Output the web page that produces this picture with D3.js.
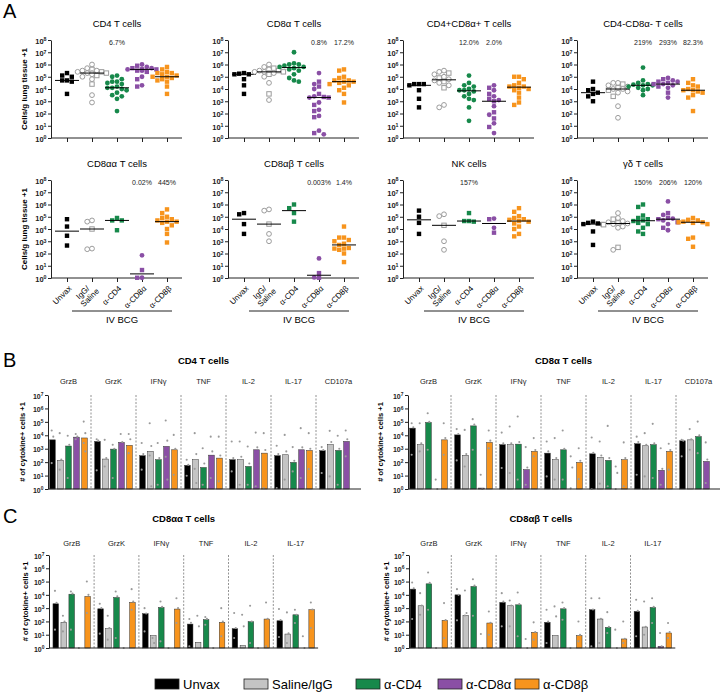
<!DOCTYPE html>
<html>
<head>
<meta charset="utf-8">
<script src="https://cdn.jsdelivr.net/npm/d3@7"></script>
<style>
  body { margin: 0; background: #fff; }
  svg text { font-family: "Liberation Sans", Arial, sans-serif; }
</style>
</head>
<body>
<svg id="fig" width="720" height="693"></svg>
<script>
// groups and colours
const groups = ["Unvax", "IgG/Saline", "α-CD4", "α-CD8α", "α-CD8β"];
const xTickLabels = ["Unvax", ["IgG/", "Saline"], "α-CD4", "α-CD8α", "α-CD8β"];
const legendNames = ["Unvax", "Saline/IgG", "α-CD4", "α-CD8α", "α-CD8β"];
const colors = ["#000000", "#c4c4c4", "#17894b", "#8a4fa5", "#f7941d"];

// panel A: log10(cells/g lung tissue + 1), one value per animal
const aTitles = ["CD4 T cells", "CD8α T cells", "CD4+CD8α+ T cells", "CD4-CD8α- T cells",
  "CD8αα T cells", "CD8αβ T cells", "NK cells", "γδ T cells"];

const cd4T = [
  [5.3, 5.1, 5.0, 4.7, 4.7, 4.6, 3.6],
  [6.0, 5.7, 5.6, 5.5, 5.5, 5.4, 5.4, 5.3, 5.3, 5.3, 5.2, 5.1, 5.0, 4.8, 4.4, 3.5, 2.9],
  [5.1, 5.0, 4.8, 4.6, 4.6, 4.5, 4.4, 4.2, 4.1, 4.1, 4.0, 3.9, 3.7, 3.5, 3.4, 3.2, 2.2],
  [6.0, 5.9, 5.8, 5.7, 5.7, 5.6, 5.6, 5.6, 5.6, 5.5, 5.5, 5.4, 5.0, 4.8, 4.3, 4.2],
  [5.8, 5.6, 5.4, 5.3, 5.3, 5.2, 5.1, 5.0, 5.0, 4.9, 4.8, 4.7, 4.6, 4.2, 3.6]
];
const cd8aT = [
  [5.3, 5.25, 5.2, 5.2, 4.8, 4.3, 3.6],
  [6.0, 5.8, 5.7, 5.6, 5.5, 5.5, 5.4, 5.4, 5.4, 5.3, 5.3, 5.2, 5.0, 4.5, 3.6, 3.1],
  [7.0, 6.1, 6.0, 6.0, 5.9, 5.8, 5.8, 5.7, 5.6, 5.5, 5.2, 4.9, 4.7, 4.6],
  [5.3, 4.6, 4.4, 4.2, 4.0, 3.6, 3.4, 3.35, 3.3, 3.3, 2.9, 2.7, 2.3, 2.2, 1.8, 1.7, 0.6, 0.4, 0.3],
  [5.6, 5.5, 5.0, 4.9, 4.7, 4.7, 4.6, 4.6, 4.5, 4.4, 4.3, 4.1, 3.9, 3.6, 2.9]
];
const dpT = [
  [4.4, 4.4, 4.4, 4.3, 3.9, 3.2, 2.5],
  [5.5, 5.4, 5.3, 5.2, 5.0, 4.9, 4.8, 4.7, 4.6, 4.5, 4.3, 4.1, 2.7, 2.5],
  [5.1, 4.5, 4.3, 4.2, 4.0, 3.9, 3.9, 3.8, 3.6, 3.4, 3.2, 3.1, 2.5, 1.4],
  [4.3, 4.1, 3.9, 3.6, 3.4, 3.2, 3.1, 3.0, 2.6, 2.1, 1.9, 1.6, 1.2, 0.9, 0.4],
  [5.0, 5.0, 4.8, 4.5, 4.3, 4.2, 4.2, 4.1, 4.0, 3.9, 3.7, 3.3, 2.9, 2.7]
];
const dnT = [
  [4.6, 4.0, 3.9, 3.7, 3.6, 3.4, 3.0],
  [4.5, 4.5, 4.4, 4.3, 4.2, 4.1, 4.0, 4.0, 3.9, 3.8, 3.7, 3.4, 2.6, 1.65],
  [5.75, 4.7, 4.5, 4.4, 4.35, 4.3, 4.3, 4.2, 4.1, 4.0, 3.9, 3.5],
  [4.9, 4.8, 4.7, 4.6, 4.6, 4.5, 4.4, 4.4, 4.3, 4.2, 4.1, 3.7, 3.3],
  [4.8, 4.5, 4.3, 4.2, 4.0, 3.9, 3.9, 3.8, 3.7, 3.5, 3.3, 2.2]
];
const cd8aaT = [
  [4.8, 4.2, 3.45, 2.65],
  [4.7, 4.6, 4.0, 2.4, 2.35],
  [4.9, 4.7, 4.7, 3.9],
  [1.85, 0.65, 0.02, 0.02],
  [5.6, 5.3, 5.0, 4.9, 4.8, 4.7, 4.6, 4.6, 4.5, 4.3, 4.0, 3.6, 2.9]
];
const cd8abT = [
  [5.3, 5.2, 4.4, 3.6],
  [5.6, 5.5, 4.4, 3.6, 3.0],
  [6.0, 5.7, 5.3, 4.6],
  [1.6, 0.4, 0.05, 0.02],
  [4.2, 3.3, 3.3, 3.1, 3.0, 2.8, 2.7, 2.45, 2.4, 2.4, 2.3, 2.0, 1.3]
];
const nkCells = [
  [5.5, 5.0, 4.5, 3.6],
  [5.2, 5.05, 4.3, 3.0, 2.3],
  [5.3, 4.65, 4.65, 4.6],
  [4.85, 4.8, 4.1, 3.7],
  [5.7, 5.4, 5.05, 4.9, 4.8, 4.75, 4.65, 4.6, 4.45, 4.2, 4.0, 3.6, 3.4]
];
const gdT = [
  [4.6, 4.5, 4.45, 4.4, 4.4, 3.8, 2.7],
  [5.3, 4.9, 4.8, 4.65, 4.55, 4.5, 4.45, 4.4, 4.35, 4.2, 4.1, 2.5, 2.3],
  [6.0, 5.8, 5.1, 4.9, 4.8, 4.7, 4.65, 4.5, 4.4, 4.1, 3.8, 3.6],
  [6.25, 5.3, 5.15, 4.9, 4.85, 4.8, 4.7, 4.55, 4.4, 4.1, 3.9],
  [4.9, 4.75, 4.7, 4.6, 4.55, 4.55, 4.5, 4.4, 3.3, 3.2, 2.55]
];
const aPct = [
  [null, null, "6.7%", null, null],
  [null, null, null, "0.8%", "17.2%"],
  [null, null, "12.0%", "2.0%", null],
  [null, null, "219%", "293%", "82.3%"],
  [null, null, null, "0.02%", "445%"],
  [null, null, null, "0.003%", "1.4%"],
  [null, null, "157%", null, null],
  [null, null, "150%", "206%", "120%"]
];

// panels B and C: log10(# cytokine+ cells + 1), bar = group mean, dots = animals
const bCytokines = ["GrzB", "GrzK", "IFNγ", "TNF", "IL-2", "IL-17", "CD107a"];
const cCytokines = ["GrzB", "GrzK", "IFNγ", "TNF", "IL-2", "IL-17"];

const bCd4Bars = [
  [3.66, 2.13, 3.2, 3.86, 3.8],
  [3.54, 2.23, 2.97, 3.47, 3.25],
  [2.48, 2.8, 2.18, 3.17, 2.92],
  [1.76, 2.18, 1.6, 2.52, 2.3],
  [2.18, 2.18, 1.68, 2.92, 2.67],
  [2.48, 2.55, 1.98, 2.92, 2.87],
  [2.85, 3.3, 2.87, 3.54, null]
];
const bCd4Dots = [
  [[4.36, 3.9, 1.93], [4.16, 2.2, 1.44], [3.96, 3.3, 0.82], [4.1, 3.9, 3.7], [5.02, 4.16, 3.42, 2.8]],
  [[3.71, 3.6, 1.39], [3.66, 2.3, 1.68], [3.3, 3.0, 0.82], [4.1, 3.5], [4.1, 3.7, 2.67]],
  [[3.42, 2.6, 1.44], [4.9, 3.2, 2.5, 0.2], [3.42, 2.3, 0.32], [5.1, 3.6, 2.4, 0.7], [4.03, 3.0, 1.06]],
  [[2.18, 1.8, 0.99], [4.16, 2.6, 1.5, 0.45], [3.04, 1.9, 0.32], [3.9, 2.8, 0.82], [3.9, 2.5, 0.57]],
  [[3.54, 2.3, 1.31], [3.54, 2.4, 0.32], [3.17, 1.9, 0.32], [4.2, 3.1, 0.2], [4.16, 2.9, 0.07]],
  [[3.22, 2.6, 0.07], [4.03, 2.8, 0.7], [3.12, 2.1, 1.31], [4.53, 3.1, 0.82], [4.16, 3.0, 1.49]],
  [[3.12, 2.9, 1.19], [4.33, 3.5, 0.94], [3.96, 3.0, 0.32], [4.36, 3.7, 2.43], []]
];
const bCd8Bars = [
  [4.53, 3.3, 4.95, 0, 3.66],
  [4.03, 2.5, 4.7, 0.07, 3.47],
  [3.3, 3.3, 3.34, 1.44, 2.8],
  [2.67, 2.18, 2.92, 0, 1.98],
  [2.62, 2.35, 2.13, 0, 2.18],
  [3.37, 3.22, 3.3, 1.39, 2.8],
  [3.59, 3.66, 3.9, 2.05, null]
];
const bCd8Dots = [
  [[4.9, 4.6, 2.55], [4.9, 3.4, 2.8], [5.64, 5.0, 2.92], [0.7, 0], [4.9, 3.8, 2.55]],
  [[4.46, 4.1, 2.13], [4.4, 2.6, 1.68], [5.2, 4.8, 2.92], [1.06, 0], [4.36, 3.6, 3.04]],
  [[4.2, 3.4, 1.56], [4.65, 3.4, 1.19], [5.4, 3.5, 0.7], [3.12, 1.6, 0.32], [3.79, 2.9, 2.43]],
  [[3.54, 2.8, 0.94], [3.79, 2.3, 0.7], [4.36, 3.0, 0.7], [2.43, 1.6, 0.05], [3.04, 2.1, 0.74]],
  [[3.84, 2.7, 0], [3.54, 2.5, 0.4], [4.7, 2.3, 0.2], [1.68, 1.2, 0], [3.47, 2.3, 0.2]],
  [[3.9, 3.5, 1.06], [4.16, 3.3, 0.94], [4.85, 3.4, 0.82], [3.04, 1.5, 0.32], [3.37, 2.9, 1.44]],
  [[3.66, 3.6, 2.43], [4.46, 3.7, 2.92], [5.02, 4.0, 2.67], [3.47, 2.2, 0.45], []]
];
const cAaBars = [
  [3.33, 1.93, 4.05, 0, 3.88],
  [2.95, 1.45, 3.8, 0, 3.43],
  [2.58, 0.93, 3.05, 0, 2.93],
  [1.8, 0.43, 2.13, 0, 1.93],
  [1.45, 0.18, 1.98, 0, 2.18],
  [2.05, 1.05, 2.5, 0, 2.88]
];
const cAaDots = [
  [[4.3, 3.4, 1.38], [2.43, 2.0, 1.25], [4.25, 4.1, 1.38], [0], [5.0, 4.0, 2.63]],
  [[3.33, 3.0, 1.08], [2.43, 1.5, 0.63], [4.25, 3.9, 0.75], [0], [4.43, 3.5, 2.88]],
  [[3.0, 2.6, 1.25], [0.75, 0.38], [3.5, 3.1, 0.5], [0], [3.75, 3.0, 1.88]],
  [[2.18, 1.9, 0.13], [2.43, 1.63], [2.33, 2.2, 1.75], [0], [3.0, 2.0, 0.88]],
  [[2.63, 1.5, 0.75], [2.5, 1.63], [3.18, 2.0, 0.38], [0], [3.43, 2.2, 0.13]],
  [[2.93, 2.1, 0.83], [2.68, 1.1, 0.38], [2.88, 2.5, 1.88], [0.88, 0], [3.43, 2.9, 1.5]]
];
const cAbBars = [
  [4.43, 3.18, 4.83, 0, 2.08],
  [4.0, 2.45, 4.63, 0, 1.88],
  [3.43, 3.18, 3.25, 0, 1.18],
  [1.93, 0.93, 2.95, 0, 0.93],
  [2.88, 2.18, 1.55, 0, 0.68],
  [2.75, 1.58, 3.05, 0.13, 1.13]
];
const cAbDots = [
  [[4.93, 4.5, 2.18], [4.13, 3.2, 2.5], [5.68, 4.9, 2.88], [0], [3.38, 2.1, 0.75]],
  [[4.43, 4.0, 2.08], [4.33, 2.63, 2.45], [5.18, 4.7, 2.43], [1.05, 0], [2.75, 1.9, 1.0]],
  [[4.13, 3.5, 1.63], [3.58, 3.2, 1.63], [4.18, 3.3, 0.88], [0.68, 0], [1.93, 1.2, 0.63]],
  [[2.88, 2.0, 0.38], [3.13, 2.38], [3.43, 3.0, 2.13], [0], [2.0, 1.0, 0.5]],
  [[3.75, 2.9, 0.13], [3.75, 2.2, 0.38], [2.7, 1.6, 1.13], [1.38, 0], [2.0, 0.7, 0.38]],
  [[3.63, 2.8, 0.88], [3.5, 1.6, 1.0], [3.75, 3.1, 1.88], [1.13, 0.13], [1.88, 1.2, 0.75]]
];

const svg = d3.select("#fig");

// "10" with superscript exponent
function supLabel(text, e) {
  text.text("10");
  text.append("tspan").attr("dy", "-0.5em").attr("font-size", "0.7em").text(e);
}

function leftAxis(g, x, y, maxExp, fs) {
  const ax = g.append("g").attr("transform", `translate(${x},0)`)
    .call(d3.axisLeft(y)
      .tickValues(d3.range(0, maxExp + 1).map(e => 10 ** e))
      .tickSize(3).tickSizeOuter(0).tickPadding(1.5).tickFormat(""));
  ax.attr("font-family", null).attr("font-size", fs).attr("font-weight", "bold");
  ax.select(".domain").attr("stroke", "#222");
  ax.selectAll(".tick line").attr("stroke", "#222");
  ax.selectAll(".tick text").attr("fill", "#222").attr("dy", "0.45em")
    .each(function (d) { supLabel(d3.select(this), Math.round(Math.log10(d))); });
}

function shapeOf(row, gi, i) {
  if (gi === 4 || gi === 0) return "square";
  if (gi === 1) return i % 3 === 2 ? "square" : "circle";
  if (gi === 2) return row === 0 ? "circle" : "square";
  return i % 2 ? "square" : "circle";
}

function scatterPanel(x0, yTop, yBot, title, vals, pct, row, showX, yLabel) {
  const g = svg.append("g");
  const x = d3.scalePoint().domain(groups).range([x0 + 16, x0 + 116]);
  const y = d3.scaleLog().domain([1, 1e8]).range([yBot, yTop]);

  leftAxis(g, x0, y, 8, 7.5);
  const xa = g.append("g").attr("transform", `translate(0,${yBot})`)
    .call(d3.axisBottom(x).tickSize(4).tickFormat(""));
  xa.select(".domain").remove();
  xa.selectAll(".tick line").attr("stroke", "#222");
  g.append("line").attr("x1", x0).attr("x2", x0 + 131)
    .attr("y1", yBot).attr("y2", yBot).attr("stroke", "#222");

  g.append("text").attr("x", x(groups[2])).attr("y", yTop - 13)
    .attr("text-anchor", "middle").attr("font-size", 9.5).text(title);

  pct.forEach((p, i) => {
    if (!p) return;
    g.append("text").attr("x", x(groups[i])).attr("y", yTop + 5)
      .attr("text-anchor", "middle").attr("font-size", 7).attr("fill", "#222").text(p);
  });

  vals.forEach((v, gi) => {
    const cx = x(groups[gi]);
    // simple swarm: spread points sideways so they do not overlap
    const placed = [];
    v.forEach((e, i) => {
      const py = y(10 ** e);
      const offs = [0, -4.8, 4.8, -9.6, 9.6, -14.4, 14.4];
      let o = offs.find(o => placed.every(q => Math.hypot(q.x - (cx + o), q.y - py) >= 4.6));
      if (o === undefined) o = 0;
      placed.push({ x: cx + o, y: py, i });
    });
    placed.forEach(p => {
      const hollow = gi === 1;
      const fill = hollow ? "#fff" : colors[gi];
      const stroke = hollow ? "#9c9c9c" : "none";
      if (shapeOf(row, gi, p.i) === "square") {
        g.append("rect").attr("x", p.x - 2.2).attr("y", p.y - 2.2)
          .attr("width", 4.4).attr("height", 4.4)
          .attr("fill", fill).attr("stroke", stroke).attr("stroke-width", 1);
      } else {
        g.append("circle").attr("cx", p.x).attr("cy", p.y).attr("r", 2.4)
          .attr("fill", fill).attr("stroke", stroke).attr("stroke-width", 1);
      }
    });
    const med = d3.median(v);
    g.append("line").attr("x1", cx - 12).attr("x2", cx + 12)
      .attr("y1", y(10 ** med)).attr("y2", y(10 ** med))
      .attr("stroke", "#000").attr("stroke-width", 1);
  });

  if (showX) {
    xTickLabels.forEach((lab, i) => {
      const t = g.append("text").attr("text-anchor", "end").attr("font-size", 8)
        .attr("transform", `translate(${x(groups[i]) + 3},${yBot + 9}) rotate(-45)`);
      if (Array.isArray(lab)) {
        t.append("tspan").attr("x", -5).attr("y", -2).text(lab[0]);
        t.append("tspan").attr("x", 0).attr("y", 6.5).text(lab[1]);
      } else {
        t.attr("dy", "0.35em").text(lab);
      }
    });
    g.append("line").attr("x1", x(groups[1]) - 20).attr("x2", x(groups[4]) + 5)
      .attr("y1", yBot + 33).attr("y2", yBot + 33).attr("stroke", "#222").attr("stroke-width", 1);
    g.append("text").attr("x", (x(groups[1]) - 20 + x(groups[4]) + 5) / 2).attr("y", yBot + 45)
      .attr("text-anchor", "middle").attr("font-size", 9.5).text("IV BCG");
  }
  if (yLabel) {
    g.append("text").attr("transform", `translate(${x0 - 24},${(yTop + yBot) / 2}) rotate(-90)`)
      .attr("text-anchor", "middle").attr("font-size", 8).attr("font-weight", "bold")
      .text("Cells/g lung tissue +1");
  }
}

function barPanel(axisX, gStart, gWidth, yTop, yBot, title, titleY, catY, cats, bars, dots, labelX) {
  const g = svg.append("g");
  const gEnd = gStart + gWidth * cats.length;
  const x = d3.scaleBand().domain(cats).range([gStart, gEnd]);
  const xi = d3.scaleBand().domain(d3.range(groups.length)).range([0, gWidth])
    .paddingInner(0.3).paddingOuter(0.46);
  const y = d3.scaleLog().domain([1, 1e7]).range([yBot, yTop]);

  g.append("text").attr("x", (gStart + gEnd) / 2).attr("y", titleY)
    .attr("text-anchor", "middle").attr("font-size", 9.5).attr("font-weight", "bold").text(title);

  cats.forEach((c, ci) => {
    g.append("text").attr("x", x(c) + gWidth / 2).attr("y", catY)
      .attr("text-anchor", "middle").attr("font-size", 7.5).attr("fill", "#222").text(c);
    if (ci > 0) {
      g.append("line").attr("x1", x(c)).attr("x2", x(c)).attr("y1", yTop).attr("y2", yBot)
        .attr("stroke", "#777").attr("stroke-width", 0.8).attr("stroke-dasharray", "2,1.5");
    }
    bars[ci].forEach((v, gi) => {
      if (v === null) return;
      const bx = x(c) + xi(gi);
      const top = y(10 ** v);
      g.append("rect").attr("x", bx).attr("y", top)
        .attr("width", xi.bandwidth()).attr("height", yBot - top)
        .attr("fill", colors[gi]).attr("stroke", "#333").attr("stroke-width", 0.5);
      dots[ci][gi].forEach((d, k) => {
        g.append("circle").attr("cx", bx + xi.bandwidth() / 2 + (k % 2 ? 1 : -1) * 0.8)
          .attr("cy", y(10 ** d)).attr("r", 1.05).attr("fill", "#9a9a9a");
      });
    });
  });

  leftAxis(g, axisX, y, 7, 7);
  g.append("line").attr("x1", axisX).attr("x2", gEnd).attr("y1", yBot).attr("y2", yBot)
    .attr("stroke", "#222");
  g.append("text").attr("transform", `translate(${labelX},${(yTop + yBot) / 2}) rotate(-90)`)
    .attr("text-anchor", "middle").attr("font-size", 7.5).attr("font-weight", "bold")
    .text("# of cytokine+ cells +1");
}

// panel letters
[["A", 18], ["B", 367], ["C", 523]].forEach(([l, yy]) => {
  svg.append("text").attr("x", 3).attr("y", yy).attr("font-size", 20).text(l);
});

// panel A
const aData = [cd4T, cd8aT, dpT, dnT, cd8aaT, cd8abT, nkCells, gdT];
const colX = [51, 228, 403, 577];
aData.forEach((vals, k) => {
  const row = Math.floor(k / 4), col = k % 4;
  const yTop = row === 0 ? 40 : 180;
  const yBot = row === 0 ? 138 : 278;
  scatterPanel(colX[col], yTop, yBot, aTitles[k], vals, aPct[k], row, row === 1, col === 0);
});

// panels B and C
barPanel(48, 46, 45, 395, 489, "CD4 T cells", 364, 384, bCytokines, bCd4Bars, bCd4Dots, 25);
barPanel(408, 406, 45, 395, 489, "CD8α T cells", 364, 384, bCytokines, bCd8Bars, bCd8Dots, 383);
barPanel(49, 49.3, 44.8, 555, 648, "CD8αα T cells", 522, 546, cCytokines, cAaBars, cAaDots, 28);
barPanel(409, 406.5, 44.8, 555, 648, "CD8αβ T cells", 522, 546, cCytokines, cAbBars, cAbDots, 389);

// legend
const legendX = [155, 244, 356, 438, 515];
legendNames.forEach((n, i) => {
  svg.append("rect").attr("x", legendX[i]).attr("y", 679).attr("width", 24).attr("height", 10)
    .attr("fill", colors[i]).attr("stroke", "#222").attr("stroke-width", 0.8);
  svg.append("text").attr("x", legendX[i] + 28).attr("y", 689).attr("font-size", 13).text(n);
});
</script>
</body>
</html>
